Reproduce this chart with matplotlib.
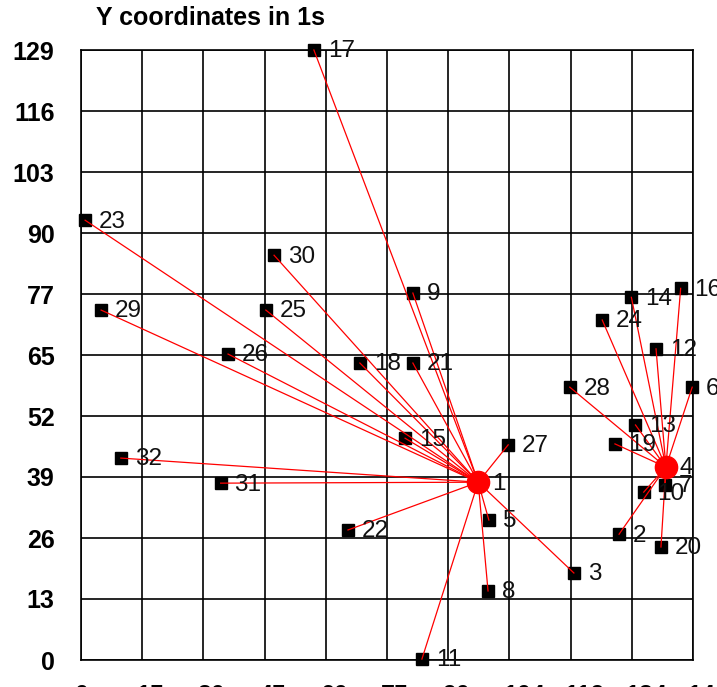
import matplotlib
matplotlib.use("Agg")
import matplotlib.pyplot as plt
import matplotlib.transforms as mtransforms

plt.rcParams['font.family'] = ['Liberation Sans', 'DejaVu Sans']

# node coordinates (node id -> x, y)
node_ids = list(range(1, 33))
node_x = [96.7, 131.0, 120.0, 142.4, 99.3, 148.8, 142.2, 99.1, 80.8, 137.0,
          83.0, 140.0, 135.0, 134.0, 78.9, 146.0, 56.7, 67.9, 130.0, 141.2,
          80.8, 65.0, 1.0, 126.9, 45.0, 35.8, 104.0, 119.0, 4.9, 47.0,
          34.0, 9.7]
node_y = [37.6, 26.6, 18.4, 40.8, 29.6, 57.7, 37.0, 14.6, 77.6, 35.5,
          0.2, 65.8, 49.7, 76.7, 46.9, 78.6, 129.0, 62.8, 45.7, 23.9,
          62.8, 27.5, 93.0, 71.9, 74.0, 64.7, 45.5, 57.7, 74.0, 85.6,
          37.4, 42.7]
depots = [1, 4]
# depot each node is linked to
assigned = [1, 4, 1, 4, 1, 4, 4, 1, 1, 4,
            1, 4, 4, 4, 1, 4, 1, 1, 4, 4,
            1, 1, 1, 4, 1, 1, 1, 4, 1, 1,
            1, 1]

x_ticks = [0, 14.9, 29.8, 44.7, 59.6, 74.5, 89.4, 104.3, 119.2, 134.1, 149]
x_labels = ["0", "15", "30", "45", "60", "75", "90", "104", "119", "134", "149"]
y_ticks = [0, 12.9, 25.8, 38.7, 51.6, 64.5, 77.4, 90.3, 103.2, 116.1, 129]
y_labels = ["0", "13", "26", "39", "52", "65", "77", "90", "103", "116", "129"]

W, H = 717, 687
fig = plt.figure(figsize=(W / 100, H / 100), dpi=100)
ax = fig.add_axes([81 / W, 27 / H, 612 / W, 610 / H])

ax.set_xlim(0, 149)
ax.set_ylim(0, 129)
ax.set_xticks(x_ticks)
ax.set_xticklabels(x_labels, fontsize=18, fontweight='bold', ha='left')
ax.set_yticks(y_ticks)
ax.set_yticklabels(y_labels, fontsize=18, fontweight='bold')
ax.tick_params(length=0)
ax.tick_params(axis='y', pad=19)
ax.tick_params(axis='x', pad=17)
shift = mtransforms.ScaledTranslation(-6 / 100, 0, fig.dpi_scale_trans)
for lab in ax.get_xticklabels():
    lab.set_transform(lab.get_transform() + shift)
ax.grid(True, color='black', linewidth=1.2)
ax.set_axisbelow(True)
for sp in ax.spines.values():
    sp.set_color('black')
    sp.set_linewidth(1.2)

pos = {n: (x, y) for n, x, y in zip(node_ids, node_x, node_y)}

# customer markers
for n, x, y in zip(node_ids, node_x, node_y):
    if n not in depots:
        ax.plot(x, y, 's', color='black', markersize=8.5, clip_on=False, zorder=3)

# links to depots
for n, d in zip(node_ids, assigned):
    if n in depots:
        continue
    x0, y0 = pos[d]
    x1, y1 = pos[n]
    ax.plot([x0, x1], [y0, y1], color='red', linewidth=0.9, zorder=4, clip_on=False)

# depots
for d in depots:
    ax.plot(*pos[d], 'o', color='red', markersize=16, clip_on=False, zorder=5)

# labels
for n, x, y in zip(node_ids, node_x, node_y):
    ax.annotate(str(n), (x, y), xytext=(10, -1), textcoords='offset points',
                fontsize=17.5, color='#111111', va='center', ha='left',
                annotation_clip=False, zorder=6)

fig.text(96 / W, 1 - 18 / H, "Y coordinates in 1s", fontsize=18,
         fontweight='bold', va='center', ha='left')

fig.savefig("out.png", dpi=100)
